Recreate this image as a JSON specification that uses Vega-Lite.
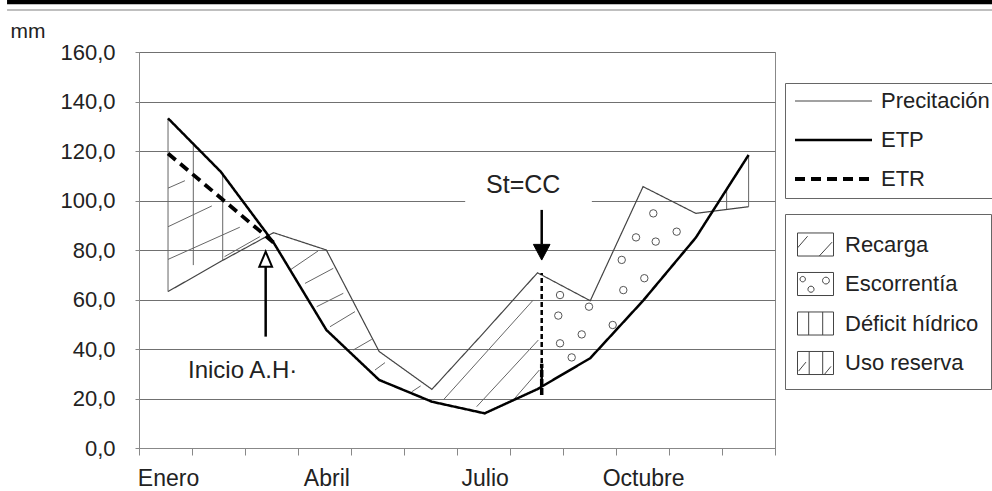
{
  "$schema": "https://vega.github.io/schema/vega-lite/v6.json",
  "autosize": {"type": "none"},
  "width": 636,
  "height": 396,
  "padding": {"left": 139, "top": 52, "right": 217, "bottom": 43},
  "background": "white",
  "config": {
    "font": "Liberation Sans",
    "view": {"stroke": "#888", "strokeWidth": 1},
    "axis": {"labelFont": "Liberation Sans", "labelColor": "#222", "titleFont": "Liberation Sans", "titleColor": "#222", "domainColor": "#888", "tickColor": "#888", "gridColor": "#707070"},
    "legend": {"labelFont": "Liberation Sans", "labelColor": "#222"}
  },
  "resolve": {"axis": {"x": "independent", "y": "independent"}},
  "datasets": {
    "series": [
      {"mes": 1, "serie": "Precitación", "valor": 63.2},
      {"mes": 2, "serie": "Precitación", "valor": 75.4},
      {"mes": 3, "serie": "Precitación", "valor": 87},
      {"mes": 4, "serie": "Precitación", "valor": 80},
      {"mes": 5, "serie": "Precitación", "valor": 39},
      {"mes": 6, "serie": "Precitación", "valor": 23.7},
      {"mes": 7, "serie": "Precitación", "valor": 47},
      {"mes": 8, "serie": "Precitación", "valor": 70.8},
      {"mes": 9, "serie": "Precitación", "valor": 59.5},
      {"mes": 10, "serie": "Precitación", "valor": 105.6},
      {"mes": 11, "serie": "Precitación", "valor": 94.8},
      {"mes": 12, "serie": "Precitación", "valor": 97.5},
      {"mes": 1, "serie": "ETR", "valor": 119},
      {"mes": 2, "serie": "ETR", "valor": 101},
      {"mes": 3, "serie": "ETR", "valor": 83},
      {"mes": 1, "serie": "ETP", "valor": 133.2},
      {"mes": 2, "serie": "ETP", "valor": 111.6},
      {"mes": 3, "serie": "ETP", "valor": 83},
      {"mes": 4, "serie": "ETP", "valor": 47.7},
      {"mes": 5, "serie": "ETP", "valor": 27.5},
      {"mes": 6, "serie": "ETP", "valor": 18.7},
      {"mes": 7, "serie": "ETP", "valor": 14.0},
      {"mes": 8, "serie": "ETP", "valor": 23.8},
      {"mes": 9, "serie": "ETP", "valor": 36.3},
      {"mes": 10, "serie": "ETP", "valor": 59.5},
      {"mes": 11, "serie": "ETP", "valor": 85},
      {"mes": 12, "serie": "ETP", "valor": 118.4}
    ],
    "tramas": [
      {"zona": "Uso reserva", "m1": 1, "v1": 63.2, "m2": 1, "v2": 133.2},
      {"zona": "Uso reserva", "m1": 1.479, "v1": 73.9, "m2": 1.479, "v2": 122.7},
      {"zona": "Uso reserva", "m1": 2.036, "v1": 76, "m2": 2.036, "v2": 110.6},
      {"zona": "Uso reserva", "m1": 1, "v1": 105, "m2": 1.32, "v2": 108},
      {"zona": "Uso reserva", "m1": 1, "v1": 89.4, "m2": 1.83, "v2": 97.8},
      {"zona": "Uso reserva", "m1": 1, "v1": 76.2, "m2": 2.36, "v2": 89.2},
      {"zona": "Uso reserva", "m1": 2.07, "v1": 77.3, "m2": 2.74, "v2": 85.4},
      {"zona": "Déficit hídrico", "m1": 11.584, "v1": 96.4, "m2": 11.584, "v2": 104.8},
      {"zona": "Déficit hídrico", "m1": 12, "v1": 97.5, "m2": 12, "v2": 118.4},
      {"zona": "Recarga", "m1": 3.311, "v1": 71.9, "m2": 3.842, "v2": 79.6},
      {"zona": "Recarga", "m1": 3.595, "v1": 66.5, "m2": 4.131, "v2": 72.6},
      {"zona": "Recarga", "m1": 3.817, "v1": 57.1, "m2": 4.321, "v2": 62.5},
      {"zona": "Recarga", "m1": 4.069, "v1": 49.0, "m2": 4.542, "v2": 55.1},
      {"zona": "Recarga", "m1": 4.51, "v1": 39.6, "m2": 4.859, "v2": 43.9},
      {"zona": "Recarga", "m1": 4.921, "v1": 31.5, "m2": 5.111, "v2": 34.5},
      {"zona": "Recarga", "m1": 5.617, "v1": 22.7, "m2": 5.787, "v2": 25.1},
      {"zona": "Recarga", "m1": 6.215, "v1": 19.4, "m2": 7.92, "v2": 59.8},
      {"zona": "Recarga", "m1": 6.848, "v1": 16.7, "m2": 8.015, "v2": 43.6},
      {"zona": "Recarga", "m1": 7.542, "v1": 19.4, "m2": 8.035, "v2": 31.5}
    ],
    "escorrentia": [
      {"mes": 8.427, "valor": 61.8},
      {"mes": 8.394, "valor": 53.5},
      {"mes": 8.427, "valor": 42.3},
      {"mes": 8.648, "valor": 36.6},
      {"mes": 8.838, "valor": 45.9},
      {"mes": 8.976, "valor": 57.1},
      {"mes": 9.425, "valor": 49.7},
      {"mes": 9.596, "valor": 76.0},
      {"mes": 9.626, "valor": 63.8},
      {"mes": 10.024, "valor": 68.6},
      {"mes": 9.867, "valor": 85.1},
      {"mes": 10.24, "valor": 83.4},
      {"mes": 10.194, "valor": 94.8},
      {"mes": 10.637, "valor": 87.4}
    ],
    "zonas": [
      {"zona": "Recarga"},
      {"zona": "Escorrentía"},
      {"zona": "Déficit hídrico"},
      {"zona": "Uso reserva"}
    ]
  },
  "layer": [
    {
      "data": {"values": [{}]},
      "mark": {"type": "rule", "color": "black", "strokeWidth": 4.5},
      "encoding": {
        "x": {"datum": -2.05, "type": "quantitative", "scale": {"domain": [0.45, 12.5], "nice": false, "zero": false}, "axis": null},
        "x2": {"datum": 17.5},
        "y": {"datum": 180.2, "type": "quantitative", "scale": {"domain": [0, 160], "nice": false}, "axis": null}
      }
    },
    {
      "data": {"values": [{}]},
      "mark": {"type": "rule", "color": "#aaaaaa", "strokeWidth": 1.5},
      "encoding": {
        "x": {"datum": -2.05, "type": "quantitative", "scale": {"domain": [0.45, 12.5], "nice": false, "zero": false}, "axis": null},
        "x2": {"datum": 17.5},
        "y": {"datum": 177, "type": "quantitative", "scale": {"domain": [0, 160], "nice": false}, "axis": null}
      }
    },
    {
      "data": {"values": [{}]},
      "mark": {"type": "rect", "fill": "white"},
      "encoding": {
        "x": {"datum": 6.63, "type": "quantitative", "scale": {"domain": [0.45, 12.5], "nice": false, "zero": false}, "axis": null},
        "x2": {"datum": 9.03},
        "y": {"datum": 98.6, "type": "quantitative", "scale": {"domain": [0, 160], "nice": false}, "axis": null},
        "y2": {"datum": 117}
      }
    },
    {
      "data": {"name": "tramas"},
      "mark": {"type": "rule", "color": "#666666", "strokeWidth": 1},
      "encoding": {
        "x": {"field": "m1", "type": "quantitative", "scale": {"domain": [0.45, 12.5], "nice": false, "zero": false}, "axis": null},
        "x2": {"field": "m2"},
        "y": {"field": "v1", "type": "quantitative", "scale": {"domain": [0, 160], "nice": false}, "axis": null},
        "y2": {"field": "v2"}
      }
    },
    {
      "data": {"name": "escorrentia"},
      "mark": {"type": "point", "shape": "circle", "filled": false, "stroke": "#555555", "strokeWidth": 1, "size": 55, "opacity": 1},
      "encoding": {
        "x": {"field": "mes", "type": "quantitative", "scale": {"domain": [0.45, 12.5], "nice": false, "zero": false}, "axis": null},
        "y": {"field": "valor", "type": "quantitative", "scale": {"domain": [0, 160], "nice": false}, "axis": null}
      }
    },
    {
      "data": {"name": "series"},
      "mark": {"type": "line"},
      "encoding": {
        "x": {
          "field": "mes", "type": "quantitative",
          "scale": {"domain": [0.45, 12.5], "nice": false, "zero": false},
          "axis": {
            "orient": "bottom",
            "title": null,
            "grid": false,
            "values": [0.45, 1, 1.4542, 2.4583, 3.4625, 4, 4.4667, 5.4708, 6.475, 7, 7.4792, 8.4833, 9.4875, 10, 10.4917, 11.4958, 12.5],
            "labelExpr": "datum.value == 1 ? 'Enero' : datum.value == 4 ? 'Abril' : datum.value == 7 ? 'Julio' : datum.value == 10 ? 'Octubre' : ''",
            "tickOpacity": {"condition": {"test": "indexof([1,4,7,10], datum.value) >= 0", "value": 0}, "value": 1},
            "tickSize": 7,
            "labelPadding": 12,
            "labelFontSize": 23,
            "labelOverlap": false,
            "labelFlush": false,
            "labelBound": false
          }
        },
        "y": {
          "field": "valor", "type": "quantitative",
          "scale": {"domain": [0, 160], "nice": false},
          "axis": {
            "orient": "left",
            "title": "mm",
            "titleAngle": 0,
            "titleX": -129,
            "titleY": -15,
            "titleAlign": "left",
            "titleBaseline": "alphabetic",
            "titleFontSize": 21,
            "titleFontWeight": "normal",
            "values": [0, 20, 40, 60, 80, 100, 120, 140, 160],
            "labelExpr": "replace(format(datum.value, '.1f'), '.', ',')",
            "tickSize": 4,
            "labelPadding": 20,
            "labelFontSize": 22,
            "grid": true,
            "gridWidth": 1
          }
        },
        "color": {
          "field": "serie", "type": "nominal",
          "scale": {"domain": ["Precitación", "ETP", "ETR"], "range": ["#444444", "#000000", "#000000"]},
          "legend": {"title": null, "orient": "none", "legendX": 646, "legendY": 31, "symbolType": "stroke", "symbolSize": 5929, "clipHeight": 20, "rowPadding": 17, "padding": 8, "labelFontSize": 22, "labelOffset": 7, "labelLimit": 400, "strokeColor": "#666666", "fillColor": "white", "cornerRadius": 0}
        },
        "strokeDash": {
          "field": "serie", "type": "nominal",
          "scale": {"domain": ["Precitación", "ETP", "ETR"], "range": [[1, 0], [1, 0], [10, 6]]},
          "legend": {"title": null, "orient": "none", "legendX": 646, "legendY": 31, "symbolType": "stroke", "symbolSize": 5929, "clipHeight": 20, "rowPadding": 17, "padding": 8, "labelFontSize": 22, "labelOffset": 7, "labelLimit": 400, "strokeColor": "#666666", "fillColor": "white", "cornerRadius": 0}
        },
        "strokeWidth": {
          "field": "serie", "type": "nominal",
          "scale": {"domain": ["Precitación", "ETP", "ETR"], "range": [1.2, 3.8, 2.5]},
          "legend": {"title": null, "orient": "none", "legendX": 646, "legendY": 31, "symbolType": "stroke", "symbolSize": 5929, "clipHeight": 20, "rowPadding": 17, "padding": 8, "labelFontSize": 22, "labelOffset": 7, "labelLimit": 400, "strokeColor": "#666666", "fillColor": "white", "cornerRadius": 0}
        }
      }
    },
    {
      "data": {"name": "zonas"},
      "mark": {"type": "point", "filled": false, "stroke": "#444444", "strokeWidth": 1},
      "encoding": {
        "x": {"field": "mes", "type": "quantitative", "scale": {"domain": [0.45, 12.5], "nice": false, "zero": false}, "axis": null},
        "y": {"field": "valor", "type": "quantitative", "scale": {"domain": [0, 160], "nice": false}, "axis": null},
        "shape": {
          "field": "zona", "type": "nominal",
          "scale": {
            "domain": ["Recarga", "Escorrentía", "Déficit hídrico", "Uso reserva"],
            "range": [
              "M-1,-0.64H1V0.64H-1Z M-1,0.19L-0.44,-0.46 M0.21,0.64L0.92,-0.13",
              "M-1,-0.64H1V0.64H-1Z M-0.86,-0.27A0.15,0.15 0 1,0 -0.56,-0.27A0.15,0.15 0 1,0 -0.86,-0.27 M-0.42,0.29A0.17,0.17 0 1,0 -0.08,0.29A0.17,0.17 0 1,0 -0.42,0.29 M0.39,-0.19A0.19,0.19 0 1,0 0.77,-0.19A0.19,0.19 0 1,0 0.39,-0.19",
              "M-1,-0.64H1V0.64H-1Z M-0.38,-0.64V0.64 M0.4,-0.64V0.64",
              "M-1,-0.64H1V0.64H-1Z M-0.94,0.45L-0.53,-0.05 M-0.35,-0.64V0.64 M0.4,-0.64V0.64 M0.49,0.64L0.86,0.19"
            ]
          },
          "legend": {"title": null, "orient": "none", "legendX": 646, "legendY": 162, "symbolSize": 1296, "symbolStrokeColor": "#444444", "symbolStrokeWidth": 1, "symbolFillColor": "white", "symbolOpacity": 1, "padding": 12, "rowPadding": 6.5, "labelFontSize": 22, "labelOffset": 11, "labelLimit": 400, "strokeColor": "#666666", "fillColor": "white", "cornerRadius": 0}
        }
      }
    },
    {
      "data": {"values": [{}]},
      "mark": {"type": "rule", "color": "black", "strokeWidth": 2.5, "strokeDash": [5, 3]},
      "encoding": {
        "x": {"datum": 8.08, "type": "quantitative", "scale": {"domain": [0.45, 12.5], "nice": false, "zero": false}, "axis": null},
        "y": {"datum": 21.4, "type": "quantitative", "scale": {"domain": [0, 160], "nice": false}, "axis": null},
        "y2": {"datum": 70.7}
      }
    },
    {
      "data": {"values": [{}]},
      "mark": {"type": "rule", "color": "black", "strokeWidth": 3.5, "strokeDash": [7, 2]},
      "encoding": {
        "x": {"datum": 8.08, "type": "quantitative", "scale": {"domain": [0.45, 12.5], "nice": false, "zero": false}, "axis": null},
        "y": {"datum": 21.4, "type": "quantitative", "scale": {"domain": [0, 160], "nice": false}, "axis": null},
        "y2": {"datum": 34}
      }
    },
    {
      "data": {"values": [{}]},
      "mark": {"type": "rule", "color": "black", "strokeWidth": 2.5},
      "encoding": {
        "x": {"datum": 2.85, "type": "quantitative", "scale": {"domain": [0.45, 12.5], "nice": false, "zero": false}, "axis": null},
        "y": {"datum": 45, "type": "quantitative", "scale": {"domain": [0, 160], "nice": false}, "axis": null},
        "y2": {"datum": 73.5}
      }
    },
    {
      "data": {"values": [{}]},
      "mark": {"type": "rule", "color": "black", "strokeWidth": 2.5},
      "encoding": {
        "x": {"datum": 8.08, "type": "quantitative", "scale": {"domain": [0.45, 12.5], "nice": false, "zero": false}, "axis": null},
        "y": {"datum": 82.3, "type": "quantitative", "scale": {"domain": [0, 160], "nice": false}, "axis": null},
        "y2": {"datum": 96.2}
      }
    },
    {
      "data": {"values": [{}]},
      "mark": {"type": "point", "shape": "M0,-1L-0.85,1L0.85,1Z", "size": 225, "filled": true, "fill": "white", "stroke": "black", "strokeWidth": 2, "opacity": 1},
      "encoding": {
        "x": {"datum": 2.85, "type": "quantitative", "scale": {"domain": [0.45, 12.5], "nice": false, "zero": false}, "axis": null},
        "y": {"datum": 76.3, "type": "quantitative", "scale": {"domain": [0, 160], "nice": false}, "axis": null}
      }
    },
    {
      "data": {"values": [{}]},
      "mark": {"type": "point", "shape": "M0,1L-1.06,-1L1.06,-1Z", "size": 246, "filled": true, "fill": "black", "stroke": "black", "strokeWidth": 1, "opacity": 1},
      "encoding": {
        "x": {"datum": 8.08, "type": "quantitative", "scale": {"domain": [0.45, 12.5], "nice": false, "zero": false}, "axis": null},
        "y": {"datum": 79.1, "type": "quantitative", "scale": {"domain": [0, 160], "nice": false}, "axis": null}
      }
    },
    {
      "data": {"values": [{}]},
      "mark": {"type": "text", "text": "St=CC", "font": "Liberation Sans", "fontSize": 25, "align": "center", "baseline": "alphabetic", "color": "#222222"},
      "encoding": {
        "x": {"datum": 7.73, "type": "quantitative", "scale": {"domain": [0.45, 12.5], "nice": false, "zero": false}, "axis": null},
        "y": {"datum": 103, "type": "quantitative", "scale": {"domain": [0, 160], "nice": false}, "axis": null}
      }
    },
    {
      "data": {"values": [{}]},
      "mark": {"type": "text", "text": "Inicio A.H·", "font": "Liberation Sans", "fontSize": 24, "align": "left", "baseline": "alphabetic", "color": "#222222"},
      "encoding": {
        "x": {"datum": 1.378, "type": "quantitative", "scale": {"domain": [0.45, 12.5], "nice": false, "zero": false}, "axis": null},
        "y": {"datum": 28.3, "type": "quantitative", "scale": {"domain": [0, 160], "nice": false}, "axis": null}
      }
    }
  ]
}
